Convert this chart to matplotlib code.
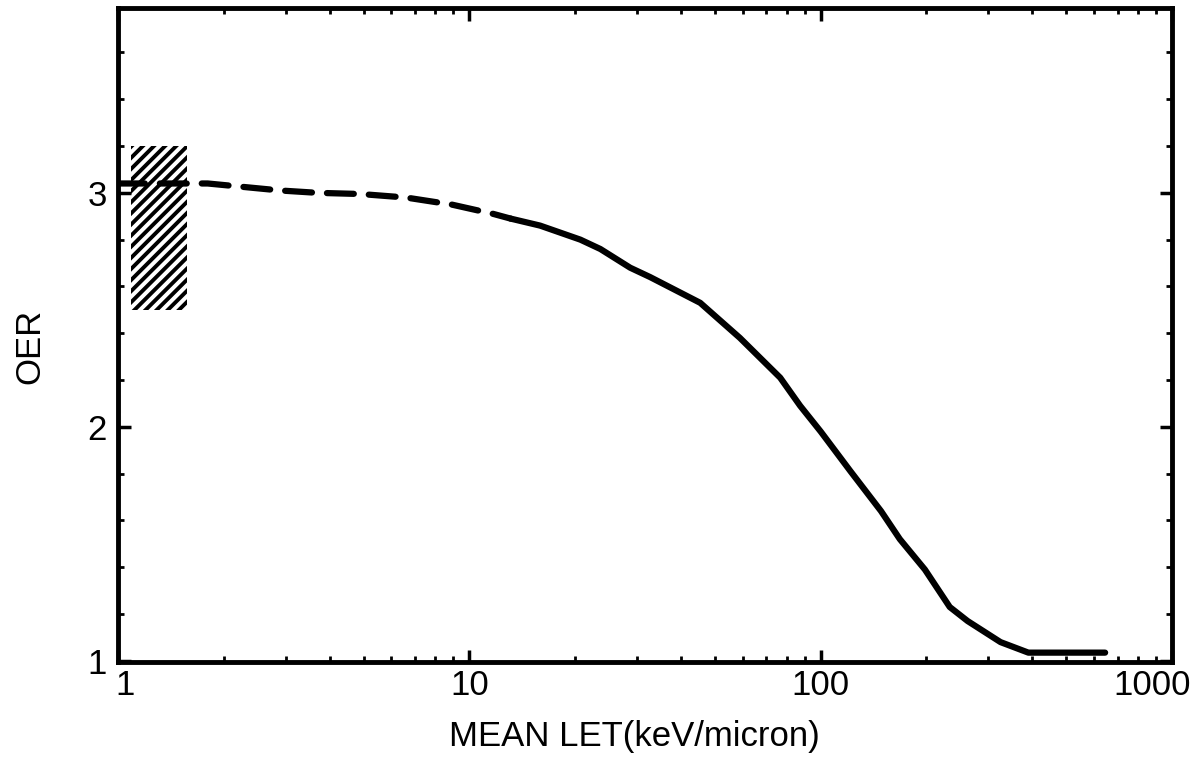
import matplotlib
matplotlib.use("Agg")
import matplotlib.pyplot as plt
from matplotlib.patches import Rectangle
from matplotlib.ticker import FixedLocator, MultipleLocator, NullFormatter
from matplotlib.transforms import ScaledTranslation

plt.rcParams['font.family'] = ['Liberation Sans', 'DejaVu Sans']
plt.rcParams['hatch.linewidth'] = 2.8

# Data
let_dash = [1.0, 1.8, 2.9, 3.7, 4.9, 6.6, 8.9, 11.7, 13.1]
oer_dash = [3.04, 3.04, 3.01, 3.00, 2.995, 2.98, 2.95, 2.91, 2.89]

let_solid = [13.1, 15.9, 20.7, 23.6, 28.7, 32.7, 45.4, 58.9, 76.7, 87.4,
             100, 121.6, 148.5, 168, 198, 233, 262, 325, 390, 645]
oer_solid = [2.89, 2.86, 2.80, 2.76, 2.68, 2.64, 2.53, 2.38, 2.21, 2.09,
             1.98, 1.81, 1.64, 1.52, 1.39, 1.23, 1.17, 1.08, 1.035, 1.035]

# Hatched band (x range, y range)
band_let = [1.09, 1.57]
band_oer = [2.5, 3.2]

x_ticks = [1, 10, 100, 1000]
x_tick_labels = ['1', '10', '100', '1000']
y_ticks = [1, 2, 3]

fig = plt.figure(figsize=(11.99, 7.61), dpi=100)
ax = fig.add_axes([0.0984, 0.1301, 0.8791, 0.8594])

ax.add_patch(Rectangle((band_let[0], band_oer[0]), band_let[1] - band_let[0],
                       band_oer[1] - band_oer[0], facecolor='none',
                       edgecolor='black', linewidth=0, hatch='///', zorder=1))

ax.plot(let_dash, oer_dash, color='black', lw=4.5, linestyle=(0, (4.3, 2.4)),
        solid_capstyle='round', dash_capstyle='round', zorder=3)
ax.plot(let_solid, oer_solid, color='black', lw=4.5,
        solid_capstyle='round', solid_joinstyle='round', zorder=3)

ax.set_xscale('log')
ax.set_xlim(1, 1000)
ax.set_ylim(0.995, 3.79)

ax.set_xticks(x_ticks)
ax.set_xticklabels(x_tick_labels)
ax.xaxis.set_minor_locator(FixedLocator(
    [m * 10 ** d for d in range(3) for m in range(2, 10)]))
ax.xaxis.set_minor_formatter(NullFormatter())
ax.set_yticks(y_ticks)
ax.yaxis.set_minor_locator(MultipleLocator(0.2))

ax.tick_params(which='both', direction='in', top=True, right=True,
               labelsize=25)
ax.tick_params(which='major', length=9, width=2.5)
ax.tick_params(which='minor', length=4, width=2)
ax.tick_params(axis='x', which='major', pad=5)
ax.tick_params(axis='y', which='major', pad=8)

# first and last x labels sit slightly inward in the original
xlabels = ax.get_xticklabels()
xlabels[0].set_transform(xlabels[0].get_transform()
                         + ScaledTranslation(0.07, 0, fig.dpi_scale_trans))
xlabels[-1].set_transform(xlabels[-1].get_transform()
                          + ScaledTranslation(-0.20, 0, fig.dpi_scale_trans))

for s in ax.spines.values():
    s.set_linewidth(3.5)

ax.set_xlabel('MEAN LET(keV/micron)', fontsize=25)
ax.xaxis.set_label_coords(0.49, -0.088)
ax.set_ylabel('OER', fontsize=25)
ax.yaxis.set_label_coords(-0.068, 0.482)

fig.savefig('out.png', dpi=100)
